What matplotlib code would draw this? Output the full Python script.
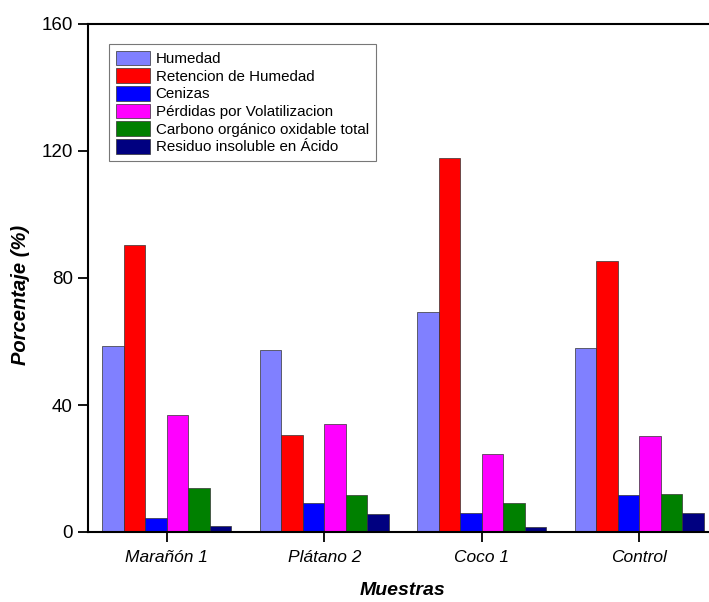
import matplotlib
matplotlib.use("Agg")
import matplotlib.pyplot as plt
import numpy as np

plt.rcParams['font.family'] = ['Liberation Sans', 'DejaVu Sans']

categories = ["Marañón 1", "Plátano 2", "Coco 1", "Control"]
series_names = ["Humedad", "Retencion de Humedad", "Cenizas",
                "Pérdidas por Volatilizacion", "Carbono orgánico oxidable total",
                "Residuo insoluble en Ácido"]
humedad = [58.5, 57.2, 69.3, 57.8]
retencion = [90.5, 30.5, 117.8, 85.2]
cenizas = [4.5, 9.0, 5.9, 11.8]
perdidas = [37.0, 33.9, 24.7, 30.3]
carbono = [14.0, 11.6, 9.0, 11.9]
residuo = [1.9, 5.7, 1.7, 6.1]
values = [humedad, retencion, cenizas, perdidas, carbono, residuo]
colors = ["#8080FF", "#FF0000", "#0000FF", "#FF00FF", "#008000", "#000080"]
yticks = [0, 40, 80, 120, 160]

fig = plt.figure(figsize=(7.09, 6.02), dpi=100)
ax = fig.add_axes([88/709, 1-532/602, 630/709, 508/602])

x = np.arange(len(categories))
w = 0.136
n = len(values)
for i, (vals, c, name) in enumerate(zip(values, colors, series_names)):
    ax.bar(x + (i - (n - 1) / 2) * w, vals, w, color=c, label=name,
           edgecolor="#333333", linewidth=0.5)

ax.set_xlim(-0.5, 3.5)
ax.set_ylim(0, 160)
ax.set_yticks(yticks)
ax.set_xticks(x)
ax.set_xticklabels(categories, fontstyle="italic", fontsize=12.5)
ax.tick_params(axis="y", labelsize=13.5, direction="out", length=7, width=1.3, pad=4)
ax.tick_params(axis="x", direction="out", length=7, width=1.3, pad=6)
for s in ax.spines.values():
    s.set_linewidth(1.5)
ax.spines['right'].set_visible(False)

ax.set_ylabel("Porcentaje (%)", fontsize=14.5, fontweight="bold", fontstyle="italic")
ax.yaxis.set_label_coords(-0.092, 0.467)
ax.set_xlabel("Muestras", fontsize=14, fontweight="bold", fontstyle="italic", labelpad=12)

leg = ax.legend(loc="upper left", bbox_to_anchor=(0.033, 0.961), fontsize=10.9,
                frameon=True, fancybox=False, edgecolor="#555555",
                handlelength=2.3, handleheight=1.1, labelspacing=0.15,
                handletextpad=0.35, borderpad=0.45, borderaxespad=0)
leg.get_frame().set_linewidth(0.8)

fig.savefig("out.png", dpi=100)
